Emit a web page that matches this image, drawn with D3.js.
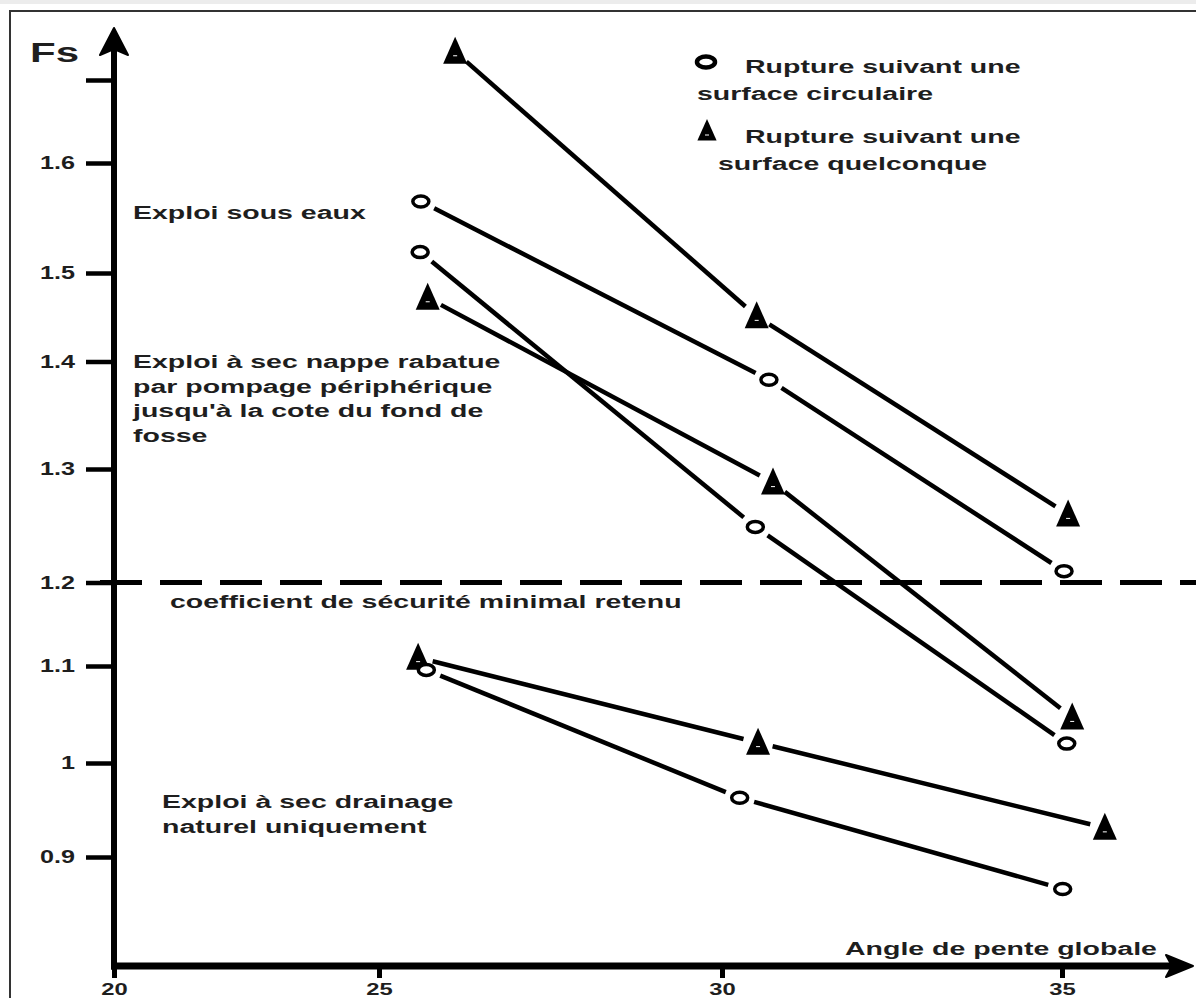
<!DOCTYPE html>
<html>
<head>
<meta charset="utf-8">
<script src="https://cdn.jsdelivr.net/npm/d3@7"></script>
<style>
  html, body { margin: 0; padding: 0; background: #fff; }
  svg { display: block; font-family: "Liberation Sans", Arial, sans-serif; }
</style>
</head>
<body>
<script>
// ===============================
// CONFIGURATION
// ===============================
const width = 1196;
const height = 998;
const sx = 1.5;            // le texte de l'original est étiré horizontalement
const sxTicks = 1.4;
const textColor = "#1e1e1e";

// ===============================
// DONNÉES
// ===============================
const xTicks = [20, 25, 30, 35];
const yTicks = [0.9, 1.0, 1.1, 1.2, 1.3, 1.4, 1.5, 1.6, 1.7];
const yTickLabels = ["0.9", "1", "1.1", "1.2", "1.3", "1.4", "1.5", "1.6", ""];
const fsMinimal = 1.2;

// [angle, Fs]
const sousEauxQuelconque = [[26.11, 1.734], [30.51, 1.451], [35.09, 1.260]];
const sousEauxCirculaire = [[25.61, 1.565], [30.69, 1.383], [35.03, 1.210]];
const pompageCirculaire  = [[25.60, 1.519], [30.49, 1.249], [35.07, 1.020]];
const pompageQuelconque  = [[25.71, 1.472], [30.75, 1.288], [35.15, 1.047]];
const drainageQuelconque = [[25.57, 1.110], [30.53, 1.021], [35.63, 0.931]];
const drainageCirculaire = [[25.69, 1.096], [30.26, 0.963], [35.01, 0.866]];

const series = [
  { points: sousEauxQuelconque, marker: "triangle" },
  { points: sousEauxCirculaire, marker: "circle" },
  { points: pompageCirculaire,  marker: "circle" },
  { points: pompageQuelconque,  marker: "triangle" },
  { points: drainageQuelconque, marker: "triangle" },
  { points: drainageCirculaire, marker: "circle" }
];

const legendLines = [
  ["Rupture suivant une", "surface circulaire"],
  ["Rupture suivant une", "surface quelconque"]
];

const annotSousEaux = ["Exploi sous eaux"];
const annotPompage = [
  "Exploi à sec nappe rabatue",
  "par pompage périphérique",
  "jusqu'à la cote du fond de",
  "fosse"
];
const annotDrainage = ["Exploi à sec drainage", "naturel uniquement"];
const annotCoef = "coefficient de sécurité minimal retenu";
const xTitle = "Angle de pente globale";
const yTitle = "Fs";

// ===============================
// ÉCHELLES (axes tracés à la main : graduations irrégulières)
// ===============================
const x = d3.scaleLinear()
  .domain(xTicks)
  .range([114, 379, 722, 1062]);

const y = d3.scaleLinear()
  .domain(yTicks)
  .range([857, 763, 666, 582.5, 469, 361.5, 273, 163, 80]);

const svg = d3.select("body")
  .append("svg")
  .attr("width", width)
  .attr("height", height);

svg.append("rect")
  .attr("width", width).attr("height", height)
  .attr("fill", "#fff");

// cadre
svg.append("rect")
  .attr("x", 0).attr("y", 0).attr("width", width).attr("height", 4)
  .attr("fill", "#ececec");
svg.append("path")
  .attr("d", `M10,${height} V11 H${width}`)
  .attr("fill", "none")
  .attr("stroke", "#333")
  .attr("stroke-width", 2);

// petit utilitaire texte étiré
function stretchedText(g, px, py, str, size, anchor = "start") {
  return g.append("text")
    .attr("transform", `translate(${px},${py}) scale(${sx},1)`)
    .attr("font-size", size)
    .attr("font-weight", "bold")
    .attr("fill", textColor)
    .attr("text-anchor", anchor)
    .text(str);
}

// ===============================
// AXES
// ===============================
const xAxisY = 966;
const x0 = x(20);

const gy = svg.append("g")
  .attr("transform", `translate(${x0},0)`)
  .call(d3.axisLeft(y).tickValues(yTicks).tickSize(28)
    .tickFormat((d, i) => yTickLabels[i]));
gy.select(".domain").remove();
gy.selectAll(".tick line").attr("stroke", "#000").attr("stroke-width", 4.5);
gy.selectAll(".tick text")
  .attr("x", null)
  .attr("transform", `translate(-39,0) scale(${sxTicks},1)`)
  .attr("font-size", 18)
  .attr("font-weight", "bold")
  .attr("font-family", "Liberation Sans, Arial, sans-serif")
  .attr("fill", textColor);

const gx = svg.append("g")
  .attr("transform", `translate(0,${xAxisY})`)
  .call(d3.axisBottom(x).tickValues(xTicks).tickSize(12).tickFormat(d3.format("d")));
gx.select(".domain").remove();
gx.selectAll(".tick line").attr("stroke", "#000").attr("stroke-width", 5);
gx.selectAll(".tick text")
  .attr("y", null).attr("dy", null)
  .attr("transform", `translate(0,29) scale(${sxTicks},1)`)
  .attr("font-size", 17)
  .attr("font-weight", "bold")
  .attr("font-family", "Liberation Sans, Arial, sans-serif")
  .attr("fill", textColor);

// lignes d'axes épaisses + flèches
svg.append("line")
  .attr("x1", x0).attr("x2", x0)
  .attr("y1", xAxisY + 3.5).attr("y2", 46)
  .attr("stroke", "#000").attr("stroke-width", 6);
svg.append("path")
  .attr("d", `M${x0},28 L${x0 + 14},55 L${x0},49 L${x0 - 14},55 Z`)
  .attr("fill", "#000").attr("stroke", "#000").attr("stroke-width", 2)
  .attr("stroke-linejoin", "round");

svg.append("line")
  .attr("x1", x0 - 3).attr("x2", 1172)
  .attr("y1", xAxisY).attr("y2", xAxisY)
  .attr("stroke", "#000").attr("stroke-width", 7);
svg.append("path")
  .attr("d", `M1193,${xAxisY} L1166,${xAxisY - 11} L1172,${xAxisY} L1166,${xAxisY + 11} Z`)
  .attr("fill", "#000").attr("stroke", "#000").attr("stroke-width", 2)
  .attr("stroke-linejoin", "round");

stretchedText(svg, 30, 62, yTitle, 28);
stretchedText(svg, 845, 955, xTitle, 19);

// ===============================
// SEUIL Fs = 1.2
// ===============================
svg.append("line")
  .attr("x1", 100).attr("x2", width)
  .attr("y1", y(fsMinimal)).attr("y2", y(fsMinimal))
  .attr("stroke", "#000")
  .attr("stroke-width", 5)
  .attr("stroke-dasharray", "42,18");

// ===============================
// SÉRIES : segments (avec espace près des marqueurs) + marqueurs
// ===============================
const gap = 15;
const lineGroup = svg.append("g");

series.forEach(s => {
  const pts = s.points.map(p => [x(p[0]), y(p[1])]);
  d3.pairs(pts).forEach(([a, b]) => {
    const dx = b[0] - a[0], dy = b[1] - a[1];
    const len = Math.hypot(dx, dy);
    const ux = dx / len, uy = dy / len;
    lineGroup.append("line")
      .attr("x1", a[0] + ux * gap).attr("y1", a[1] + uy * gap)
      .attr("x2", b[0] - ux * gap).attr("y2", b[1] - uy * gap)
      .attr("stroke", "#000")
      .attr("stroke-width", 4.5)
      .attr("stroke-linecap", "butt");
  });
});

function drawMarker(g, type, cx, cy, k = 1) {
  if (type === "circle") {
    g.append("ellipse")
      .attr("cx", cx).attr("cy", cy)
      .attr("rx", 8).attr("ry", 5.5)
      .attr("fill", "#fff")
      .attr("stroke", "#000")
      .attr("stroke-width", 3.5);
  } else {
    g.append("path")
      .attr("d", `M${cx},${cy - 15 * k} L${cx + 12 * k},${cy + 12 * k} L${cx - 12 * k},${cy + 12 * k} Z`)
      .attr("fill", "#000");
    g.append("line")
      .attr("x1", cx - 2).attr("x2", cx + 2)
      .attr("y1", cy + 4).attr("y2", cy + 4)
      .attr("stroke", "#fff").attr("stroke-width", 1);
  }
}

const markerGroup = svg.append("g");
series.forEach(s => {
  s.points.forEach(p => drawMarker(markerGroup, s.marker, x(p[0]), y(p[1])));
});

// ===============================
// LÉGENDE
// ===============================
const legend = svg.append("g");
legend.append("ellipse")
  .attr("cx", 706).attr("cy", 62)
  .attr("rx", 9).attr("ry", 5.5)
  .attr("fill", "#fff").attr("stroke", "#000").attr("stroke-width", 4.5);
stretchedText(legend, 745, 73, legendLines[0][0], 19);
stretchedText(legend, 697, 100, legendLines[0][1], 19);
drawMarker(legend, "triangle", 707, 131, 0.8);
stretchedText(legend, 745, 143, legendLines[1][0], 19);
stretchedText(legend, 718, 170, legendLines[1][1], 19);

// ===============================
// ANNOTATIONS
// ===============================
const notes = svg.append("g");
annotSousEaux.forEach((t, i) => stretchedText(notes, 133, 219 + i * 25, t, 19));
annotPompage.forEach((t, i) => stretchedText(notes, 133, 368 + i * 24.7, t, 19));
stretchedText(notes, 170, 608, annotCoef, 19);
annotDrainage.forEach((t, i) => stretchedText(notes, 162, 808 + i * 25, t, 19));
</script>
</body>
</html>
